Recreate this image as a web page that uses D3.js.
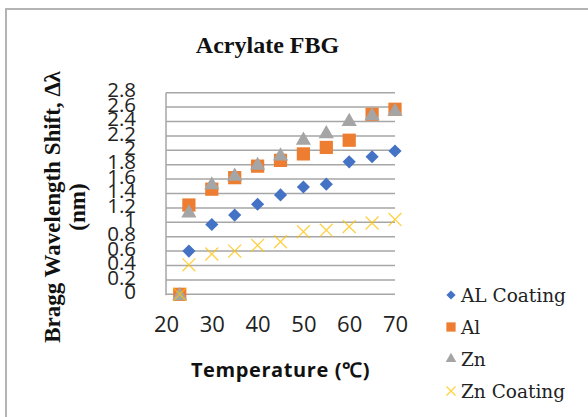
<!DOCTYPE html>
<html><head><meta charset="utf-8">
<script src="https://cdn.jsdelivr.net/npm/d3@7"></script>
<style>html,body{margin:0;padding:0;background:#fff;overflow:hidden}</style>
</head><body>
<svg id="chart" width="588" height="417"></svg>
<script>
const temps = [23, 25, 30, 35, 40, 45, 50, 55, 60, 65, 70];
const alCoating = [0, 0.60, 0.97, 1.10, 1.25, 1.38, 1.49, 1.53, 1.84, 1.91, 1.99];
const al = [0, 1.24, 1.46, 1.62, 1.78, 1.86, 1.95, 2.04, 2.14, 2.50, 2.57];
const zn = [0, 1.15, 1.54, 1.66, 1.81, 1.94, 2.16, 2.25, 2.42, 2.50, 2.56];
const znCoating = [0, 0.41, 0.56, 0.60, 0.68, 0.73, 0.87, 0.89, 0.94, 0.99, 1.04];
const seriesNames = ["AL Coating", "Al", "Zn", "Zn Coating"];
const xTicks = [20, 30, 40, 50, 60, 70];
const yTicks = [0, 0.2, 0.4, 0.6, 0.8, 1, 1.2, 1.4, 1.6, 1.8, 2, 2.2, 2.4, 2.6, 2.8];
const titleText = "Acrylate FBG";
const xTitle = "Temperature (\u2103)";
const yTitle1 = "Bragg Wavelength Shift, \u2206\u03bb";
const yTitle2 = "(nm)";

const series = [
  {name: seriesNames[0], values: alCoating, color: "#4472c4", shape: "diamond"},
  {name: seriesNames[1], values: al, color: "#ed7d31", shape: "square"},
  {name: seriesNames[2], values: zn, color: "#a5a5a5", shape: "triangle"},
  {name: seriesNames[3], values: znCoating, color: "#ffc000", shape: "x"}
];

const svg = d3.select("#chart");
// outer frame
svg.append("rect").attr("x", 6).attr("y", 9).attr("width", 700).attr("height", 600)
  .attr("fill", "none").attr("stroke", "#b4b4b4").attr("stroke-width", 2);

const x = d3.scaleLinear().domain([20, 70]).range([166, 395]);
const y = d3.scaleLinear().domain([0, 2.8]).range([294.3, 92.7]);

// gridlines
svg.append("g").selectAll("line").data(yTicks).join("line")
  .attr("x1", x(20)).attr("x2", x(70))
  .attr("y1", d => y(d)).attr("y2", d => y(d))
  .attr("stroke", "#a6a6a6").attr("stroke-width", 1.5);
// y axis line
svg.append("line").attr("x1", x(20)).attr("x2", x(20)).attr("y1", y(2.8)).attr("y2", y(0) + 1)
  .attr("stroke", "#a6a6a6").attr("stroke-width", 1.5);

// axes via d3 (ticks hidden, labels only)
const yAxis = svg.append("g").attr("transform", `translate(${x(20)},0)`)
  .call(d3.axisLeft(y).tickValues(yTicks).tickSize(0).tickPadding(30).tickFormat(d => d3.format("")(+d.toFixed(1))));
yAxis.select(".domain").remove();
yAxis.selectAll("text").attr("font-family", "'Open Sans', sans-serif").attr("font-size", 20.5)
  .attr("fill", "#222").attr("dy", "0.2em");

const xAxis = svg.append("g").attr("transform", `translate(0,${y(0)})`)
  .call(d3.axisBottom(x).tickValues(xTicks).tickSize(0).tickPadding(22).tickFormat(d3.format("d")));
xAxis.select(".domain").remove();
xAxis.selectAll("text").attr("font-family", "'Open Sans', sans-serif").attr("font-size", 22)
  .attr("fill", "#222");

// markers
const sym = {
  diamond: d3.symbol().type(d3.symbolDiamond2).size(110),
  square: d3.symbol().type(d3.symbolSquare).size(175),
  triangle: d3.symbol().type(d3.symbolTriangle).size(100),
  x: d3.symbol().type(d3.symbolTimes).size(110)
};
function drawMark(g, s, px, py, scale) {
  const p = g.append("path").attr("transform", `translate(${px},${py}) scale(${scale})`)
    .attr("d", sym[s.shape]());
  if (s.shape === "x") {
    p.attr("fill", "none").attr("stroke", s.color).attr("stroke-width", 1.3 / scale).attr("opacity", 0.75);
  } else {
    p.attr("fill", s.color);
  }
  return p;
}
series.forEach(s => {
  const g = svg.append("g");
  s.values.forEach((v, i) => drawMark(g, s, x(temps[i]), y(v) + (s.shape === "triangle" ? 1.5 : 0), 1));
});

// title
svg.append("text").attr("x", 267.5).attr("y", 53).attr("text-anchor", "middle")
  .attr("font-family", "'Liberation Serif', 'Times New Roman', serif").attr("font-weight", "bold")
  .attr("font-size", 24).attr("fill", "#111").text(titleText);

// x title
svg.append("text").attr("x", 280.5).attr("y", 377).attr("text-anchor", "middle")
  .attr("font-family", "'Open Sans', sans-serif").attr("font-weight", "bold")
  .attr("font-size", 20).attr("letter-spacing", 0.6).attr("fill", "#111").text(xTitle);

// y title
const yt = svg.append("text").attr("transform", "translate(60,207) rotate(-90)")
  .attr("text-anchor", "middle")
  .attr("font-family", "'Liberation Serif', 'Times New Roman', serif").attr("font-weight", "bold")
  .attr("font-size", 23).attr("fill", "#111");
yt.append("tspan").attr("x", 0).attr("y", 0).text(yTitle1);
yt.append("tspan").attr("x", 0).attr("y", 25).text(yTitle2);

// legend
const legend = svg.append("g");
series.forEach((s, i) => {
  const ly = 295 + i * 32;
  drawMark(legend, s, 451, ly, 0.7);
  legend.append("text").attr("x", 461).attr("y", ly + 6.5)
    .attr("font-family", "'DejaVu Serif', serif").attr("font-size", 18.5)
    .attr("fill", "#222").text(s.name);
});
</script>
</body></html>
